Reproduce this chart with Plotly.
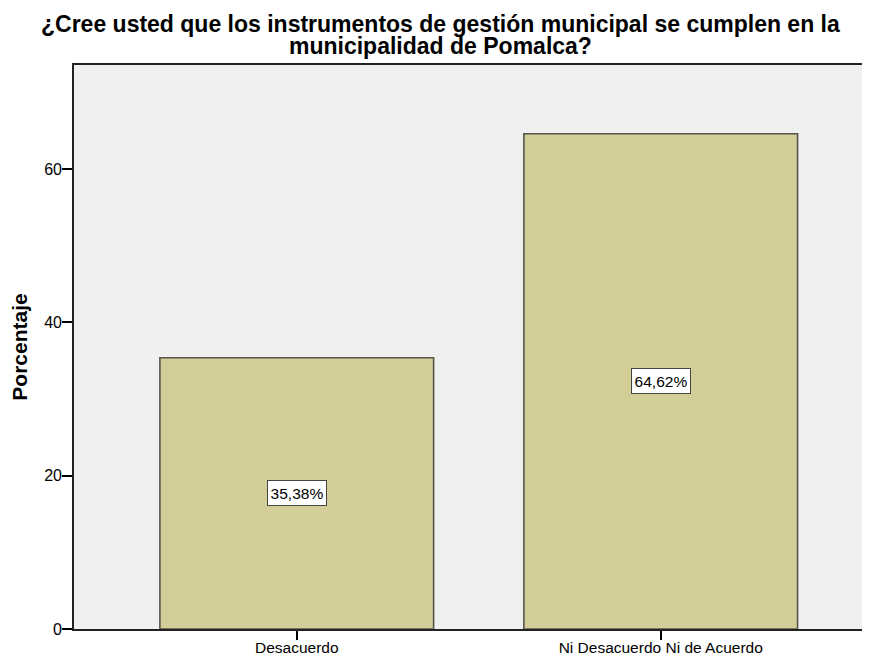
import plotly.graph_objects as go

categories = ["Desacuerdo", "Ni Desacuerdo Ni de Acuerdo"]
values = [35.38, 64.62]
y_ticks = [0, 20, 40, 60]
title_lines = [
    "¿Cree usted que los instrumentos de gestión municipal se cumplen en la",
    "municipalidad de Pomalca?",
]
y_title = "Porcentaje"

FONT = "Liberation Sans, Arial, sans-serif"

fig = go.Figure()
fig.add_trace(go.Bar(
    x=list(range(len(categories))),
    y=values,
    width=0.752,
    marker=dict(color="#D3CE98", line=dict(color="#55554A", width=1.6)),
    hoverinfo="skip",
))

for i, v in enumerate(values):
    fig.add_annotation(
        x=i, y=v / 2, xref="x", yref="y",
        text=f"{v:.2f}".replace(".", ",") + "%",
        showarrow=False,
        width=54, height=20,
        bgcolor="white", bordercolor="#444444", borderwidth=1, borderpad=2,
        font=dict(family=FONT, size=15.5, color="black"),
    )

# two-line title with tight line spacing
for j, (line, ypos) in enumerate(zip(title_lines, [1.073, 1.034])):
    fig.add_annotation(
        x=0.4605, y=ypos, xref="paper", yref="paper",
        xanchor="center", yanchor="middle",
        text=f"<b>{line}</b>", showarrow=False,
        font=dict(family=FONT, size=23, color="black"),
    )

fig.update_layout(
    width=862, height=648,
    margin=dict(l=66, r=0, t=57, b=27),
    paper_bgcolor="white",
    plot_bgcolor="#F0F0F0",
    showlegend=False,
    font=dict(family=FONT, size=16, color="black"),
)
fig.update_xaxes(
    range=[-0.612, 1.575],
    tickvals=list(range(len(categories))),
    ticktext=categories,
    ticks="outside", ticklen=9, tickcolor="black", tickwidth=1.5,
    showline=True, linecolor="#222222", linewidth=1.6, mirror=True,
    showgrid=False, zeroline=False,
    tickfont=dict(size=15.5),
    ticklabelstandoff=-5,
    automargin=False,
)
fig.update_yaxes(
    range=[0, 73.58],
    tickvals=y_ticks,
    ticks="outside", ticklen=10, tickcolor="black", tickwidth=1.5,
    showline=True, linecolor="#222222", linewidth=1.6, mirror=True,
    showgrid=False, zeroline=False,
    tickfont=dict(size=16),
    ticklabelstandoff=-3,
    automargin=False,
    title=dict(text=f"<b>{y_title}</b>", font=dict(size=21), standoff=12),
)

fig.write_html("out.html")
